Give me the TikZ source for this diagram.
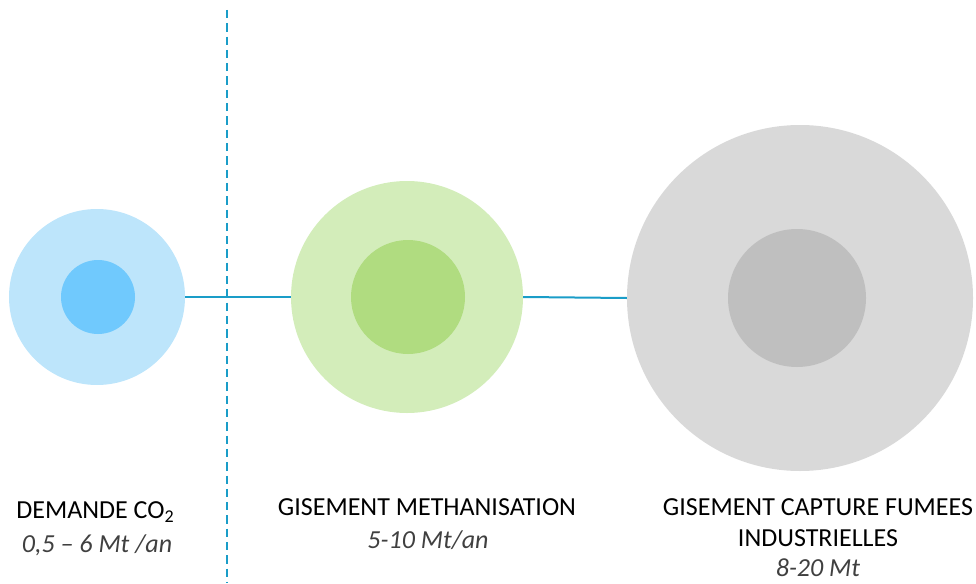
\documentclass[tikz,border=0pt]{standalone}
\usepackage{fontspec}
\setmainfont{Carlito}
\definecolor{lineblue}{HTML}{1A9DC8}
\definecolor{outA}{HTML}{BDE5FB}
\definecolor{inA}{HTML}{70C9FD}
\definecolor{outB}{HTML}{D3EDBA}
\definecolor{inB}{HTML}{B0DC80}
\definecolor{outC}{HTML}{D9D9D9}
\definecolor{inC}{HTML}{BFBFBF}
\definecolor{subtxt}{HTML}{404040}
\begin{document}
\begin{tikzpicture}[x=1pt,y=-1pt,
  disc/.style={circle,draw=none,inner sep=0pt,minimum size=#1},
  title/.style={font=\fontsize{26}{32}\selectfont,align=center,text=black,inner sep=0pt},
  sub/.style={font=\fontsize{26}{32}\selectfont\itshape,text=subtxt,inner sep=0pt},
  link/.style={draw=lineblue,line width=2pt},
  divider/.style={draw=lineblue,line width=2pt,dash pattern=on 8.3pt off 5pt}]
\useasboundingbox (0,0) rectangle (976,583);
% circles
\node[disc=176pt,fill=outA] (oa) at (97,297) {};
\node[disc=74pt,fill=inA] (ia) at (98,297) {};
\node[disc=232pt,fill=outB] (ob) at (407,297) {};
\node[disc=114pt,fill=inB] (ib) at (408,297) {};
\node[disc=346pt,fill=outC] (oc) at (800,298) {};
\node[disc=138pt,fill=inC] (ic) at (797,298) {};
% connectors
\draw[link] (oa.east) -- (ob.west);
\draw[link] (ob.east) -- (oc.west);
% divider
\coordinate (dtop) at (227,10);
\coordinate (dbot) at (227,583);
\draw[divider] (dtop) -- (dbot);
% labels
\node[title] (ta) at (95,512) {DEMANDE CO\raisebox{-0.35ex}{\fontsize{18}{18}\selectfont 2}};
\node[sub] (sa) at (97,545) {0,5 – 6 Mt /an};
\node[title] (tb) at (427,507) {GISEMENT METHANISATION};
\node[sub] (sb) at (428,540) {5-10 Mt/an};
\node[title] (tc) at (818,507) {GISEMENT CAPTURE FUMEES};
\node[title] (tc2) at (818,538) {INDUSTRIELLES};
\node[sub] (sc) at (818,568) {8-20 Mt};
\end{tikzpicture}
\end{document}
